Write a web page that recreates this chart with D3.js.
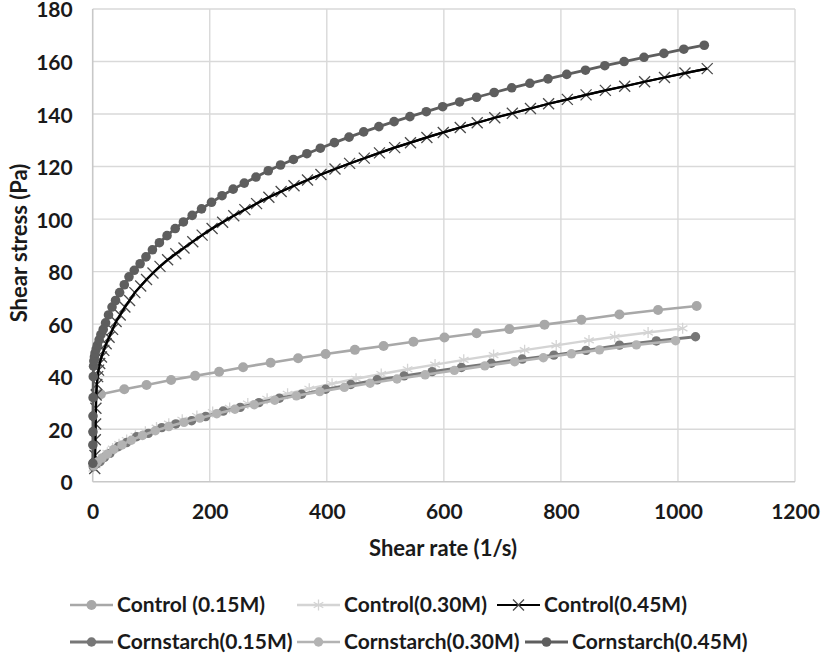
<!DOCTYPE html>
<html><head><meta charset="utf-8">
<script src="https://cdn.jsdelivr.net/npm/d3@7"></script>
<style>body{margin:0;background:#fff}svg{display:block}text{font-family:Lato,"Open Sans",sans-serif;font-weight:700;fill:#1a1a1a}</style>
</head><body><svg id="c" width="827" height="659"></svg>
<script>
const xTicks = [0,200,400,600,800,1000,1200];
const yTicks = [0,20,40,60,80,100,120,140,160,180];
const xTitle = "Shear rate (1/s)";
const yTitle = "Shear stress (Pa)";
const seriesNames = ["Control (0.15M)","Control(0.30M)","Control(0.45M)","Cornstarch(0.15M)","Cornstarch(0.30M)","Cornstarch(0.45M)"];

const ctl015X = [14,54,92,134,175,216,257,304,351,398,448,497,548,601,656,712,772,835,900,966,1032];
const ctl015Y = [33.3,35.2,36.8,38.7,40.3,41.9,43.6,45.3,47.0,48.6,50.2,51.7,53.3,54.9,56.5,58.1,59.8,61.7,63.7,65.4,66.9];

const ctl030X = [1,5,10,17,25,34,45,58,73,90,109,130,153,178,205,234,265,298,333,370,409,450,493,538,585,634,685,738,792,848,892,949,1008];
const ctl030Y = [5,6.3,7.7,9.3,11,12.6,14.3,15.9,17.5,19,20.6,22.1,23.6,25,26.5,28.1,29.8,31.6,33.5,35.4,37.3,39.2,41,42.8,44.6,46.4,48.2,50.1,51.9,53.8,55.2,56.8,58.4];

const ctl045X = [3.5,4,4.5,5,5.5,6,7,8.5,10,12,15,19,23,28,34,40,47,55,63,72,82,92,103,115,128,142,156,171,187,204,222,241,260,280,301,322,344,367,390,414,439,464,490,516,543,571,599,628,657,687,717,748,779,811,843,876,909,943,977,1012,1050];
const ctl045Y = [5,10,16,22,28,33,37,40,42.5,45,47.5,50,52.5,55,58,61,63.5,66.5,69,72,74.5,77,79.5,82,84.5,86.8,89,91.4,93.9,96.4,98.8,101.3,103.6,105.9,108.3,110.5,112.7,114.9,117,119.1,121.2,123.2,125.2,127.2,129.1,131.1,133,134.9,136.7,138.6,140.3,142.1,143.9,145.6,147.3,149,150.6,152.3,153.9,155.6,157.3];

const cs015X = [1,6,12.5,20,29.5,43.7,58,75,95,118,142,169,193,223,252,284,319,357,398,441,486,532,580,630,681,734,788,843,900,963,1030];
const cs015Y = [5.7,6.8,7.6,9.2,10.8,13.3,14.9,17.1,18.4,20.6,22,23.2,24.8,26.9,28.3,30.1,31.8,33.3,35.2,37,38.8,40.3,41.9,43.5,45.1,46.7,48.2,50,52,53.6,55.2];

const cs030X = [2,8,16,25,36,50,66,85,107,130,156,183,212,243,276,311,348,388,430,474,520,568,618,670,721,770,818,866,929,996];
const cs030Y = [6,7.5,9,10.5,12.3,14,15.8,17.6,19.4,21,22.6,24.2,25.9,27.6,29.3,31,32.7,34.3,35.9,37.5,39.1,40.7,42.4,44.1,45.7,47.2,48.7,50.2,52.1,53.7];

const cs045X = [0.2,0.3,0.4,0.5,0.7,1,1.5,2,3,4,6,8,11,14,18,22,27,33,39,46,54,62,71,81,91,102,114,127,141,155,170,186,203,221,240,259,279,300,321,343,366,389,413,438,463,489,515,542,570,598,627,656,686,716,747,778,810,842,875,908,942,976,1010,1045];
const cs045Y = [7,14,19,25,32,40,44,46,47.5,49,50.5,52,54,56,58,60.5,63.5,66.5,69,72,75,78,80.5,83,85.6,88.3,91,93.7,96.4,98.9,101.4,103.9,106.4,108.9,111.4,113.7,116,118.4,120.6,122.7,124.9,127,129.1,131.2,133.2,135.2,137.1,139,140.9,142.8,144.6,146.4,148.2,150,151.7,153.4,155.1,156.7,158.4,160,161.6,163.1,164.7,166.2];

const seriesX = [ctl015X,ctl030X,ctl045X,cs015X,cs030X,cs045X];
const seriesY = [ctl015Y,ctl030Y,ctl045Y,cs015Y,cs030Y,cs045Y];
const lineColors = ["#a8a8a8","#d4d4d4","#000000","#777777","#b3b3b3","#5e5e5e"];
const markColors = ["#a8a8a8","#d4d4d4","#4a4a4a","#777777","#b3b3b3","#5e5e5e"];
const markTypes = ["circle","star","x","circle","circle","circle"];

const svg = d3.select("#c");
const x = d3.scaleLinear().domain([0,1200]).range([92.7,795]);
const y = d3.scaleLinear().domain([0,180]).range([481.7,9]);

svg.append("g").selectAll("line").data(yTicks.filter(d=>d>0)).join("line")
  .attr("x1",x(0)).attr("x2",x(1200)).attr("y1",d=>y(d)).attr("y2",d=>y(d))
  .attr("stroke","#d9d9d9").attr("stroke-width",1.4);
svg.append("g").selectAll("line").data(xTicks.filter(d=>d>0)).join("line")
  .attr("y1",y(0)).attr("y2",y(180)).attr("x1",d=>x(d)).attr("x2",d=>x(d))
  .attr("stroke","#d9d9d9").attr("stroke-width",1.4);
svg.append("line").attr("x1",x(0)).attr("x2",x(0)).attr("y1",y(0)).attr("y2",y(180)).attr("stroke","#c8c8c8").attr("stroke-width",1.6);
svg.append("line").attr("x1",x(0)).attr("x2",x(1200)).attr("y1",y(0)).attr("y2",y(0)).attr("stroke","#c8c8c8").attr("stroke-width",1.6);

const gx = svg.append("g").attr("transform",`translate(0,${y(0)})`)
  .call(d3.axisBottom(x).tickValues(xTicks).tickSize(0).tickPadding(22).tickFormat(d3.format("d")));
const gy = svg.append("g").attr("transform",`translate(${x(0)},0)`)
  .call(d3.axisLeft(y).tickValues(yTicks).tickSize(0).tickPadding(20).tickFormat(d3.format("d")));
[gx,gy].forEach(g=>{g.select(".domain").remove();g.selectAll("text").attr("font-family","Lato").attr("font-weight",700).attr("font-size",21).attr("fill","#1a1a1a");});
gy.selectAll("text").attr("dy","0.38em");

svg.append("text").attr("x",443).attr("y",556).attr("text-anchor","middle").attr("font-size",22).text(xTitle);
svg.append("text").attr("transform","translate(27,243) rotate(-90)").attr("text-anchor","middle").attr("font-size",22).text(yTitle);

function drawMarker(g, type, cx, cy, color, r){
  if(type==="circle"){
    g.append("circle").attr("cx",cx).attr("cy",cy).attr("r",r).attr("fill",color);
  } else if(type==="x"){
    const s=r;
    g.append("path").attr("d",`M${cx-s},${cy-s}L${cx+s},${cy+s}M${cx-s},${cy+s}L${cx+s},${cy-s}`)
      .attr("stroke",color).attr("stroke-width",1.3).attr("fill","none");
  } else {
    const s=r;
    g.append("path").attr("d",`M${cx},${cy-s}L${cx},${cy+s}M${cx-s*0.87},${cy-s*0.5}L${cx+s*0.87},${cy+s*0.5}M${cx-s*0.87},${cy+s*0.5}L${cx+s*0.87},${cy-s*0.5}`)
      .attr("stroke",color).attr("stroke-width",1.3).attr("fill","none");
  }
}
const markR = [5,5.5,5.5,4.7,4.7,4.8];
const lineW = [2.6,2.4,2.2,2.8,2.6,2.8];

const line = d3.line().x(d=>x(d[0])).y(d=>y(d[1]));
seriesX.forEach((xs,i)=>{
  const pts = xs.map((v,j)=>[v,seriesY[i][j]]);
  const g = svg.append("g");
  g.append("path").attr("d",line(pts)).attr("fill","none").attr("stroke",lineColors[i]).attr("stroke-width",lineW[i]).attr("stroke-linejoin","round");
  pts.forEach(p=>drawMarker(g,markTypes[i],x(p[0]),y(p[1]),markColors[i],markR[i]));
  if(markTypes[i]==="x"){ g.append("path").attr("d",line(pts)).attr("fill","none").attr("stroke",lineColors[i]).attr("stroke-width",lineW[i]); }
});

const legX = [70,297,497,70,297,525];
const legY = [605,605,605,642,642,642];
seriesNames.forEach((name,i)=>{
  const g = svg.append("g");
  g.append("line").attr("x1",legX[i]).attr("x2",legX[i]+43).attr("y1",legY[i]).attr("y2",legY[i]).attr("stroke",lineColors[i]).attr("stroke-width",lineW[i]);
  drawMarker(g,markTypes[i],legX[i]+21.5,legY[i],markColors[i],markR[i]);
  g.append("text").attr("x",legX[i]+47).attr("y",legY[i]).attr("dy","0.35em").attr("font-size",21).text(name);
});
</script></body></html>
